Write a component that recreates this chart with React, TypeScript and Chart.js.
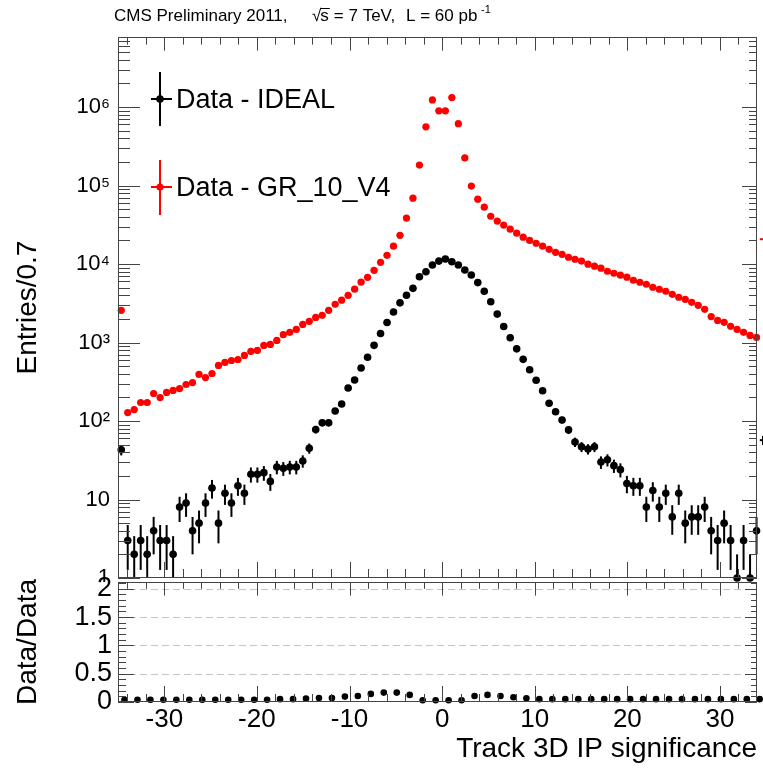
import React, { useEffect, useRef } from 'react';
import { Chart, registerables } from 'chart.js';

Chart.register(...registerables);

const FONT = "'Liberation Sans', Arial, Helvetica, sans-serif";

// histogram binning (Entries / 0.7)
const HIST_LOW = -35;
const BIN_WIDTH = 0.7;
const RATIO_BIN_WIDTH = 1.4;
const X_MIN = -35;
const X_MAX = 34;
const Y_MIN = 1;
const Y_MAX = 7.8e6;
const RATIO_MIN = 0;
const RATIO_MAX = 2.12;

// Data - IDEAL (black)
const idealCounts = [
  43, 3, 2, 3, 2, 4, 3, 3, 2, 8,
  9, 4, 5, 9, 14, 5, 12, 9, 15, 12,
  21, 21, 22, 17, 26, 25, 26, 26, 31, 45,
  78, 95, 95, 134, 165, 263, 333, 473, 650, 920,
  1300, 1800, 2450, 3200, 4000, 4900, 6890, 7970, 9710, 10900,
  11600, 10700, 9710, 8380, 7240, 5800, 4500, 3300, 2300, 1600,
  1150, 830, 610, 450, 330, 243, 168, 131, 103, 77,
  54, 47, 44, 47, 30, 32, 27, 24, 16, 15,
  15, 8, 13, 8, 12, 6, 12, 5, 6, 6,
  8, 4, 3, 5, 3, 1, 3, 1, 4, 57,
];

// Data - GR_10_V4 (red)
const gr10Counts = [
  2570, 128, 140, 172, 172, 224, 199, 231, 245, 259,
  292, 309, 392, 358, 403, 510, 557, 590, 608, 684,
  770, 794, 919, 946, 1064, 1260, 1350, 1470, 1700, 1860,
  2090, 2220, 2570, 3070, 3460, 3990, 4780, 5880, 6770, 8320,
  10500, 12900, 16900, 23200, 38500, 69000, 182000, 560000, 1230000, 895000,
  895000, 1320000, 613000, 225000, 98500, 67000, 53000, 40600, 35200, 31300,
  27800, 24700, 22000, 20000, 18400, 16900, 15400, 14100, 13300, 12200,
  11500, 10900, 9940, 9380, 8840, 8090, 7630, 7200, 6790, 6210,
  5860, 5520, 5060, 4770, 4500, 4110, 3770, 3550, 3250, 2980,
  2650, 2140, 1910, 1810, 1610, 1470, 1350, 1230, 1160, 20700,
];

// Data/Data ratio (bins of 1.4)
const ratioValues = [
  0.04, 0.04, 0.04, 0.04, 0.04, 0.04, 0.04, 0.04, 0.04, 0.04,
  0.04, 0.04, 0.05, 0.05, 0.06, 0.07, 0.07, 0.095, 0.107, 0.143,
  0.166, 0.166, 0.125, 0.03, 0.03, 0.03, 0.03, 0.107, 0.125, 0.107,
  0.084, 0.066, 0.05, 0.05, 0.05, 0.05, 0.05, 0.05, 0.05, 0.05,
  0.05, 0.05, 0.05, 0.05, 0.05, 0.05, 0.05, 0.05, 0.05, 0.05,
];

const xTickValues = [-30, -20, -10, 0, 10, 20, 30];
const xTickLabels = ['-30', '-20', '-10', '0', '10', '20', '30'];
const yTickValues = [1, 10, 100, 1000, 10000, 100000, 1000000];
const yTickLabels = ['1', '10', '10\u00B2', '10\u00B3', '10\u2074', '10\u2075', '10\u2076'];
const ratioTickValues = [0, 0.5, 1, 1.5, 2];
const ratioTickLabels = ['0', '0.5', '1', '1.5', '2'];

const binCenters = idealCounts.map((_, i) => HIST_LOW + BIN_WIDTH * (i + 0.5));
const ratioCenters = ratioValues.map((_, j) => HIST_LOW + RATIO_BIN_WIDTH * (j + 0.5));

const FRAME = '#444';

function line(ctx: CanvasRenderingContext2D, x1: number, y1: number, x2: number, y2: number) {
  ctx.beginPath();
  ctx.moveTo(x1, y1);
  ctx.lineTo(x2, y2);
  ctx.stroke();
}

function drawXTicks(chart: any, major: number, minor: number) {
  const { ctx, chartArea: a, scales } = chart;
  const xs = scales.x;
  ctx.save();
  ctx.strokeStyle = FRAME;
  ctx.lineWidth = 1;
  for (let v = -34; v <= 34; v += 2) {
    const px = Math.round(xs.getPixelForValue(v)) + 0.5;
    if (px < a.left || px > a.right) continue;
    const len = v % 10 === 0 ? major : minor;
    line(ctx, px, a.bottom, px, a.bottom - len);
    line(ctx, px, a.top, px, a.top + len * 0.85);
  }
  ctx.restore();
}

function drawFrame(chart: any) {
  const { ctx, chartArea: a } = chart;
  ctx.save();
  ctx.strokeStyle = FRAME;
  ctx.lineWidth = 1;
  ctx.strokeRect(a.left + 0.5, a.top + 0.5, a.right - a.left - 1, a.bottom - a.top - 1);
  ctx.restore();
}

function drawErrorBars(chart: any, values: number[], color: string) {
  const { ctx, chartArea: a, scales } = chart;
  const xs = scales.x;
  const ys = scales.y;
  ctx.save();
  ctx.beginPath();
  ctx.rect(a.left, a.top, a.right - a.left + 12, a.bottom - a.top);
  ctx.clip();
  ctx.strokeStyle = color;
  ctx.lineWidth = 2;
  values.forEach((v, i) => {
    const xc = binCenters[i];
    const err = Math.sqrt(v);
    const lo = v - err > 0 ? v - err : Y_MIN / 10;
    const hi = v + err;
    const cx = xs.getPixelForValue(xc);
    const cy = ys.getPixelForValue(v);
    const y1 = ys.getPixelForValue(hi);
    const y2 = ys.getPixelForValue(lo);
    line(ctx, cx, y1, cx, Math.min(y2, a.bottom + 20));
    const xl = xs.getPixelForValue(xc - BIN_WIDTH / 2);
    const xr = xs.getPixelForValue(xc + BIN_WIDTH / 2);
    line(ctx, xl, cy, xr, cy);
  });
  ctx.restore();
}

const topDecor = {
  id: 'topDecor',
  beforeDatasetsDraw(chart: any) {
    drawErrorBars(chart, gr10Counts, '#ff0000');
    drawErrorBars(chart, idealCounts, '#000');
  },
  afterDraw(chart: any) {
    const { ctx, chartArea: a, scales } = chart;
    drawFrame(chart);
    drawXTicks(chart, 16, 9);
    const ys = scales.y;
    ctx.save();
    ctx.strokeStyle = FRAME;
    ctx.lineWidth = 1;
    for (let k = 0; k <= 6; k++) {
      for (let m = 1; m <= 9; m++) {
        const v = m * Math.pow(10, k);
        if (v > Y_MAX) continue;
        const py = Math.round(ys.getPixelForValue(v)) + 0.5;
        const isMajor = m === 1;
        line(ctx, a.left, py, a.left + (isMajor ? 22 : 12), py);
        line(ctx, a.right, py, a.right - (isMajor ? 15 : 8), py);
      }
    }
    ctx.restore();

    // legend
    ctx.save();
    ctx.lineWidth = 2;
    ctx.strokeStyle = '#000';
    ctx.fillStyle = '#000';
    line(ctx, 160, 72, 160, 126);
    line(ctx, 151, 99, 172, 99);
    ctx.beginPath();
    ctx.arc(160, 99, 3.8, 0, Math.PI * 2);
    ctx.fill();
    ctx.strokeStyle = '#ff0000';
    ctx.fillStyle = '#ff0000';
    line(ctx, 160, 160, 160, 215);
    line(ctx, 151, 187, 172, 187);
    ctx.beginPath();
    ctx.arc(160, 187, 3.6, 0, Math.PI * 2);
    ctx.fill();
    ctx.fillStyle = '#000';
    ctx.font = `27px ${FONT}`;
    ctx.textBaseline = 'alphabetic';
    ctx.textAlign = 'left';
    ctx.fillText('Data - IDEAL', 176, 108);
    ctx.fillText('Data - GR_10_V4', 176, 196);

    // title
    ctx.font = `17px ${FONT}`;
    ctx.fillText('CMS Preliminary 2011,', 114, 21);
    const sx = 312;
    ctx.fillText('\u221A', sx, 21);
    const wr = ctx.measureText('\u221A').width;
    ctx.fillText('s', sx + wr - 1, 21);
    const ws = ctx.measureText('s').width;
    ctx.lineWidth = 1;
    ctx.strokeStyle = '#000';
    line(ctx, sx + wr - 1, 8.5, sx + wr + ws, 8.5);
    ctx.fillText('= 7 TeV,', sx + wr + ws + 4, 21);
    ctx.fillText('L = 60 pb', 406, 21);
    ctx.font = `11px ${FONT}`;
    ctx.fillText('-1', 481, 13);
    ctx.restore();
  },
};

const bottomDecor = {
  id: 'bottomDecor',
  beforeDatasetsDraw(chart: any) {
    const { ctx, chartArea: a, scales } = chart;
    const ys = scales.y;
    ctx.save();
    ctx.strokeStyle = '#c4c4c4';
    ctx.lineWidth = 1;
    ctx.setLineDash([7, 4]);
    ratioTickValues.forEach((v) => {
      if (v === 0) return;
      const py = Math.round(ys.getPixelForValue(v)) + 0.5;
      line(ctx, a.left, py, a.right, py);
    });
    ctx.restore();
  },
  afterDraw(chart: any) {
    const { ctx, chartArea: a, scales } = chart;
    drawFrame(chart);
    drawXTicks(chart, 16, 8);
    const ys = scales.y;
    ctx.save();
    ctx.strokeStyle = FRAME;
    ctx.lineWidth = 1;
    for (let i = 0; i <= 21; i++) {
      const v = i / 10;
      const py = Math.round(ys.getPixelForValue(v)) + 0.5;
      const isMajor = i % 5 === 0;
      line(ctx, a.left, py, a.left + (isMajor ? 16 : 8), py);
      line(ctx, a.right, py, a.right - (isMajor ? 12 : 6), py);
    }
    ctx.restore();
  },
};

export default function App() {
  const topRef = useRef<HTMLCanvasElement>(null);
  const botRef = useRef<HTMLCanvasElement>(null);

  useEffect(() => {
    const top = new Chart(topRef.current as HTMLCanvasElement, {
      type: 'scatter',
      data: {
        datasets: [
          {
            label: 'Data - GR_10_V4',
            data: gr10Counts.map((v, i) => ({ x: binCenters[i], y: v })),
            backgroundColor: '#ff0000',
            borderColor: '#ff0000',
            pointRadius: 3.6,
            pointBorderWidth: 0,
            pointHoverRadius: 3.6,
            clip: false as any,
          },
          {
            label: 'Data - IDEAL',
            data: idealCounts.map((v, i) => ({ x: binCenters[i], y: v })),
            backgroundColor: '#000',
            borderColor: '#000',
            pointRadius: 3.8,
            pointBorderWidth: 0,
            pointHoverRadius: 3.8,
            clip: false as any,
          },
        ],
      },
      options: {
        responsive: false,
        animation: false,
        events: [],
        layout: { padding: { top: 37, right: 6, bottom: 4, left: 0 } },
        plugins: {
          legend: { display: false },
          tooltip: { enabled: false },
          title: { display: false },
        },
        scales: {
          x: { type: 'linear', min: X_MIN, max: X_MAX, display: false },
          y: {
            type: 'logarithmic',
            min: Y_MIN,
            max: Y_MAX,
            afterBuildTicks: (s: any) => {
              s.ticks = yTickValues.map((v) => ({ value: v }));
            },
            afterFit: (s: any) => {
              s.width = 118;
              s.paddingTop = 0;
              s.paddingBottom = 0;
            },
            ticks: {
              callback: (_v: any, i: number) => yTickLabels[i],
              font: { family: FONT, size: 22 },
              color: '#000',
              padding: 8,
              autoSkip: false,
            },
            grid: { display: false, drawTicks: false },
            border: { display: false },
            title: {
              display: true,
              text: 'Entries/0.7',
              color: '#000',
              font: { family: FONT, size: 28 },
              padding: { top: 11, bottom: 0 },
            },
          },
        },
      },
      plugins: [topDecor],
    } as any);

    const bot = new Chart(botRef.current as HTMLCanvasElement, {
      type: 'scatter',
      data: {
        datasets: [
          {
            label: 'Data/Data',
            data: ratioValues.map((v, j) => ({ x: ratioCenters[j], y: v })),
            backgroundColor: '#000',
            borderColor: '#000',
            pointRadius: 3.3,
            pointBorderWidth: 0,
            pointHoverRadius: 3.3,
            clip: false as any,
          },
        ],
      },
      options: {
        responsive: false,
        animation: false,
        events: [],
        layout: { padding: { top: 12, right: 6, bottom: 0, left: 0 } },
        plugins: {
          legend: { display: false },
          tooltip: { enabled: false },
          title: { display: false },
        },
        scales: {
          x: {
            type: 'linear',
            min: X_MIN,
            max: X_MAX,
            afterBuildTicks: (s: any) => {
              s.ticks = xTickValues.map((v) => ({ value: v }));
            },
            afterFit: (s: any) => {
              s.height = 67;
              s.paddingLeft = 0;
              s.paddingRight = 0;
            },
            ticks: {
              callback: (_v: any, i: number) => xTickLabels[i],
              font: { family: FONT, size: 26 },
              color: '#000',
              padding: 2,
              maxRotation: 0,
              autoSkip: false,
            },
            grid: { display: false, drawTicks: false },
            border: { display: false },
            title: {
              display: true,
              text: 'Track 3D IP significance',
              align: 'end',
              color: '#000',
              font: { family: FONT, size: 28 },
              padding: { top: 0, bottom: 3 },
            },
          },
          y: {
            type: 'linear',
            min: RATIO_MIN,
            max: RATIO_MAX,
            afterBuildTicks: (s: any) => {
              s.ticks = ratioTickValues.map((v) => ({ value: v }));
            },
            afterFit: (s: any) => {
              s.width = 118;
              s.paddingTop = 0;
              s.paddingBottom = 0;
            },
            ticks: {
              callback: (_v: any, i: number) => ratioTickLabels[i],
              font: { family: FONT, size: 27 },
              color: '#000',
              padding: 6,
              autoSkip: false,
            },
            grid: { display: false, drawTicks: false },
            border: { display: false },
            title: {
              display: true,
              text: 'Data/Data',
              color: '#000',
              font: { family: FONT, size: 28 },
              padding: { top: 11, bottom: 0 },
            },
          },
        },
      },
      plugins: [bottomDecor],
    } as any);

    return () => {
      top.destroy();
      bot.destroy();
    };
  }, []);

  return (
    <div style={{ position: 'absolute', left: 0, top: 0, width: 763, height: 769, background: '#fff', overflow: 'hidden' }}>
      <canvas ref={topRef} width={763} height={582} style={{ position: 'absolute', left: 0, top: 0 }} />
      <canvas ref={botRef} width={763} height={199} style={{ position: 'absolute', left: 0, top: 570 }} />
    </div>
  );
}
